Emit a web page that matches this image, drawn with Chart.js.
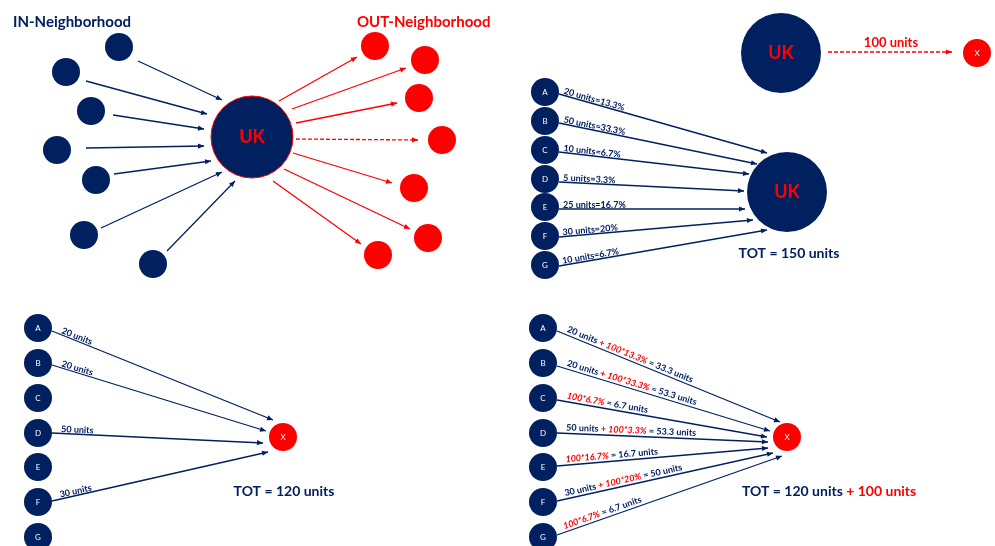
<!DOCTYPE html>
<html>
<head>
<meta charset="utf-8">
<title>IN / OUT Neighborhood</title>
<script src="https://cdn.jsdelivr.net/npm/chart.js@4.4.1/dist/chart.umd.min.js"></script>
<style>
  html, body { margin: 0; padding: 0; background: #fff; }
</style>
</head>
<body>
<canvas id="grafo" width="995" height="546"></canvas>
<script>
const NAVY = '#002060';
const RED = '#ff0000';
const FONT = 'Lato, "Open Sans", sans-serif';

// panel 1: in / out neighbourhood of UK (diagram coordinates)
const inNodes = [[119, 47], [66, 72], [91, 111], [57, 150], [96, 180], [84, 235], [153, 264]];
const outNodes = [[375, 46], [425, 60], [419, 98], [442, 140], [414, 188], [428, 238], [378, 255]];
const hubUK = [252, 137];
const inFrom = [[138, 61], [86, 81], [113, 115], [86, 148], [114, 174], [101, 228], [167, 251]];
const inTo = [[222, 100], [207, 114], [204, 129], [204, 146], [211, 161], [222, 172], [235, 181]];
const outFrom = [[279, 101], [292, 109], [296, 123], [296, 139], [293, 153], [284, 169], [273, 181]];
const outTo = [[357, 57], [406, 68], [397, 103], [418, 140], [392, 183], [410, 229], [361, 244]];
const outDashed = 3;

// panel 2: UK exports 100 units to X, UK imports 150 units
const ukTop = [781, 53];
const xTop = [977, 53];
const exportFrom = [828, 52];
const exportTo = [952, 52];
const exportLabel = '100 units';
const letters = ['A', 'B', 'C', 'D', 'E', 'F', 'G'];
const lettersX2 = 545;
const lettersY2 = [92, 121, 150, 179, 207, 236, 265];
const hubUK2 = [787, 192];
const importFromX = 559;
const importFromY = [94, 123, 152, 182, 209, 237, 266];
const importTo = [[767, 153], [757, 164], [749, 174], [744, 191], [745, 209], [753, 220], [767, 230]];
const importShares = ['20 units=13.3%', '50 units=33.3%', '10 units=6.7%', '5 units=3.3%', '25 units=16.7%', '30 units=20%', '10 units=6.7%'];
const total2 = 'TOT = 150 units';

// panel 3: X imports 120 units
const lettersX3 = 38;
const lettersY34 = [328, 363, 398, 433, 467, 502, 537];
const nodeX3 = [283, 437];
const flowSource = [0, 1, 3, 5];
const flowFrom3 = [[52, 331], [52, 365], [52, 433], [52, 501]];
const flowTo3 = [[273, 420], [266, 431], [263, 443], [268, 452]];
const flowText3 = ['20 units', '20 units', '50 units', '30 units'];
const total3 = 'TOT = 120 units';

// panel 4: X imports 120 units + redistributed 100 units
const lettersX4 = 543;
const nodeX4 = [787, 437];
const flowFromX4 = 557;
const flowFromY4 = [331, 366, 400, 433, 466, 501, 535];
const flowTo4 = [[780, 422], [770, 431], [767, 437], [768, 442], [768, 448], [773, 453], [782, 456]];
const flowBase4 = ['20 units', '20 units', '', '50 units', '', '30 units', ''];
const flowExtra4 = ['100*13.3%', '100*33.3%', '100*6.7%', '100*3.3%', '100*16.7%', '100*20%', '100*6.7%'];
const flowResult4 = ['33.3 units', '53.3 units', '6.7 units', '53.3 units', '16.7 units', '50 units', '6.7 units'];
const total4 = ['TOT = 120 units', ' + 100 units'];

function pt(p) {
    return { x: p[0], y: p[1] };
}

function nodes(points, color, radius, names, textStyle, border) {
    return {
        data: points.map(pt),
        backgroundColor: color,
        borderColor: border || color,
        pointRadius: radius,
        pointHoverRadius: radius,
        pointBorderWidth: border ? 1 : 0,
        showLine: false,
        clip: false,
        order: 0,
        names: names,
        textStyle: textStyle
    };
}

function edge(from, to, color, dashed, label, lift) {
    return {
        data: [pt(from), pt(to)],
        borderColor: color,
        borderWidth: 1.3,
        borderDash: dashed ? [4, 2] : [],
        pointRadius: 0,
        showLine: true,
        order: 1,
        isEdge: true,
        arrowColor: color,
        label: label,
        lift: lift || 2
    };
}

function construirDatasets() {
    const ds = [];
    const small = { font: '8px ' + FONT, color: '#fff' };
    const uk = { font: 'bold 18px ' + FONT, color: RED };

    // panel 1
    inFrom.forEach((p, i) => ds.push(edge(p, inTo[i], NAVY, false)));
    outFrom.forEach((p, i) => ds.push(edge(p, outTo[i], RED, i === outDashed)));
    ds.push(nodes(inNodes, NAVY, 14));
    ds.push(nodes(outNodes, RED, 14));
    ds.push(nodes([hubUK], NAVY, 41, ['UK'], uk, RED));

    // panel 2
    ds.push(edge(exportFrom, exportTo, RED, true));
    ds.push(nodes([ukTop], NAVY, 40, ['UK'], uk));
    ds.push(nodes([xTop], RED, 14, ['X'], small));
    importFromY.forEach((y, i) => {
        ds.push(edge([importFromX, y], importTo[i], NAVY, false,
            [{ t: importShares[i], c: NAVY }], 1.5));
    });
    ds.push(nodes(lettersY2.map(y => [lettersX2, y]), NAVY, 14, letters, small));
    ds.push(nodes([hubUK2], NAVY, 40, ['UK'], uk));

    // panel 3
    flowSource.forEach((s, i) => {
        ds.push(edge(flowFrom3[i], flowTo3[i], NAVY, false, [{ t: flowText3[i], c: NAVY, shift: 9 }], 1.5));
    });
    ds.push(nodes(lettersY34.map(y => [lettersX3, y]), NAVY, 14, letters, small));
    ds.push(nodes([nodeX3], RED, 14, ['X'], small));

    // panel 4
    flowFromY4.forEach((y, i) => {
        const parts = [];
        if (flowBase4[i]) {
            parts.push({ t: flowBase4[i], c: NAVY });
            parts.push({ t: ' + ', c: RED });
        }
        parts.push({ t: flowExtra4[i], c: RED, italic: true });
        parts.push({ t: ' = ' + flowResult4[i], c: NAVY });
        parts[0].shift = 9;
        ds.push(edge([flowFromX4, y], flowTo4[i], NAVY, false, parts, 3));
    });
    ds.push(nodes(lettersY34.map(y => [lettersX4, y]), NAVY, 14, letters, small));
    ds.push(nodes([nodeX4], RED, 14, ['X'], small));
    return ds;
}

// free texts, anchored in diagram coordinates
const textos = [
    { parts: [{ t: 'IN-Neighborhood', c: NAVY }], at: [13, 22], size: 15, align: 'left' },
    { parts: [{ t: 'OUT-Neighborhood', c: RED }], at: [357, 22], size: 15, align: 'left' },
    { parts: [{ t: exportLabel, c: RED }], at: [891, 43], size: 13, align: 'center' },
    { parts: [{ t: total2, c: NAVY }], at: [789, 253], size: 14, align: 'center' },
    { parts: [{ t: total3, c: NAVY }], at: [284, 491], size: 14, align: 'center' },
    { parts: [{ t: total4[0], c: NAVY }, { t: total4[1], c: RED }], at: [742, 491], size: 14, align: 'left' }
];

function dibujarPartes(ctx, parts, x, y, size) {
    let cx = x;
    parts.forEach(p => {
        ctx.font = (p.italic ? 'italic ' : '') + 'bold ' + size + 'px ' + FONT;
        ctx.fillStyle = p.c;
        ctx.fillText(p.t, cx, y);
        cx += ctx.measureText(p.t).width;
    });
}

function anchoPartes(ctx, parts, size) {
    let w = 0;
    parts.forEach(p => {
        ctx.font = (p.italic ? 'italic ' : '') + 'bold ' + size + 'px ' + FONT;
        w += ctx.measureText(p.t).width;
    });
    return w;
}

const decoraciones = {
    id: 'decoraciones',
    afterDatasetsDraw(chart) {
        const ctx = chart.ctx;
        const sx = chart.scales.x;
        const sy = chart.scales.y;

        chart.data.datasets.forEach((ds, i) => {
            const meta = chart.getDatasetMeta(i);
            if (ds.isEdge) {
                const a = meta.data[0];
                const b = meta.data[1];
                const ang = Math.atan2(b.y - a.y, b.x - a.x);
                // arrow head
                ctx.save();
                ctx.translate(b.x, b.y);
                ctx.rotate(ang);
                ctx.fillStyle = ds.arrowColor;
                ctx.beginPath();
                ctx.moveTo(0, 0);
                ctx.lineTo(-6, -2.6);
                ctx.lineTo(-6, 2.6);
                ctx.closePath();
                ctx.fill();
                ctx.restore();
                // label along the arrow
                if (ds.label) {
                    ctx.save();
                    ctx.translate(a.x, a.y);
                    ctx.rotate(ang);
                    ctx.textBaseline = 'alphabetic';
                    ctx.textAlign = 'left';
                    dibujarPartes(ctx, ds.label, ds.label[0].shift || 4, -ds.lift, 9);
                    ctx.restore();
                }
            } else if (ds.names) {
                ctx.save();
                ctx.textAlign = 'center';
                ctx.textBaseline = 'middle';
                ctx.font = ds.textStyle.font;
                ctx.fillStyle = ds.textStyle.color;
                meta.data.forEach((el, j) => {
                    ctx.fillText(ds.names[j], el.x, el.y + 0.5);
                });
                ctx.restore();
            }
        });

        ctx.save();
        ctx.textBaseline = 'middle';
        ctx.textAlign = 'left';
        textos.forEach(tx => {
            let x = sx.getPixelForValue(tx.at[0]);
            const y = sy.getPixelForValue(tx.at[1]);
            if (tx.align === 'center') {
                x -= anchoPartes(ctx, tx.parts, tx.size) / 2;
            }
            dibujarPartes(ctx, tx.parts, x, y, tx.size);
        });
        ctx.restore();
    }
};

function inicializarGrafo() {
    const ctx = document.getElementById('grafo').getContext('2d');
    window.miGrafo = new Chart(ctx, {
        type: 'scatter',
        data: { datasets: construirDatasets() },
        options: {
            responsive: false,
            animation: false,
            devicePixelRatio: 1,
            layout: { padding: 0, autoPadding: false },
            plugins: {
                legend: { display: false },
                tooltip: { enabled: false }
            },
            scales: {
                x: { type: 'linear', min: 0, max: 995, display: false },
                y: { type: 'linear', min: 0, max: 546, reverse: true, display: false }
            }
        },
        plugins: [decoraciones]
    });
}

document.addEventListener('DOMContentLoaded', inicializarGrafo);
</script>
</body>
</html>
